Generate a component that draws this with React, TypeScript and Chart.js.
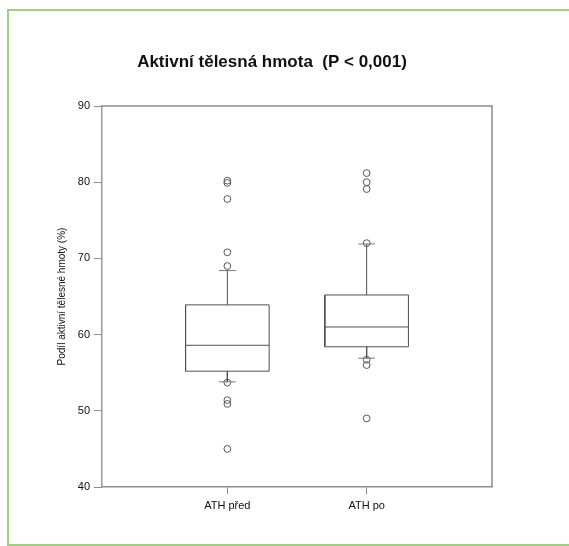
import React, { useEffect, useRef } from "react";
import { Chart, registerables } from "chart.js";

Chart.register(...registerables);

// Box-plot summary per group
const categories = ["ATH před", "ATH po"];
const q1 = [55.2, 58.4];
const median = [58.6, 61.0];
const q3 = [63.9, 65.2];
const whiskerLow = [53.8, 56.9];
const whiskerHigh = [68.4, 71.9];
const outliers = [
  [80.2, 79.9, 77.8, 70.8, 69.0, 53.7, 51.4, 50.9, 45.0],
  [81.2, 80.0, 79.1, 72.0, 56.7, 56.0, 49.0],
];
const yTicks = [40, 50, 60, 70, 80, 90];

const TITLE = "Aktivní tělesná hmota  (P < 0,001)";
const Y_TITLE = "Podíl aktivní tělesné hmoty (%)";

const FONT = "'Liberation Sans', Arial, sans-serif";
const BOX_HALF = 0.3;
const CAP_HALF = 0.06;

function lineSet(points: { x: number; y: number }[], color: string, width = 1) {
  return {
    type: "scatter" as const,
    data: points,
    showLine: true,
    borderColor: color,
    borderWidth: width,
    pointRadius: 0,
    pointHoverRadius: 0,
    fill: false,
  };
}

function buildDatasets() {
  const sets: any[] = [];
  categories.forEach((_, i) => {
    const x = i + 1;
    const l = x - BOX_HALF;
    const r = x + BOX_HALF;
    sets.push(
      lineSet(
        [
          { x: l, y: q1[i] },
          { x: r, y: q1[i] },
          { x: r, y: q3[i] },
          { x: l, y: q3[i] },
          { x: l, y: q1[i] },
        ],
        "#505050"
      )
    );
    sets.push(lineSet([{ x: l, y: median[i] }, { x: r, y: median[i] }], "#505050"));
    sets.push(lineSet([{ x, y: q3[i] }, { x, y: whiskerHigh[i] }], "#505050"));
    sets.push(lineSet([{ x, y: q1[i] }, { x, y: whiskerLow[i] }], "#505050"));
    sets.push(
      lineSet([{ x: x - CAP_HALF, y: whiskerHigh[i] }, { x: x + CAP_HALF, y: whiskerHigh[i] }], "#777777")
    );
    sets.push(
      lineSet([{ x: x - CAP_HALF, y: whiskerLow[i] }, { x: x + CAP_HALF, y: whiskerLow[i] }], "#777777")
    );
    sets.push({
      type: "scatter" as const,
      data: outliers[i].map((y) => ({ x, y })),
      showLine: false,
      pointStyle: "circle",
      pointRadius: 3.4,
      pointBorderWidth: 1,
      pointBorderColor: "#555555",
      pointBackgroundColor: "rgba(255,255,255,0)",
    });
  });
  return sets;
}

// Draws the top and right edges of the plot frame
const frame = {
  id: "plotFrame",
  afterDraw(chart: any) {
    const { ctx, chartArea } = chart;
    ctx.save();
    ctx.strokeStyle = "#8c8c8c";
    ctx.lineWidth = 1.5;
    ctx.beginPath();
    ctx.moveTo(chartArea.left, chartArea.top);
    ctx.lineTo(chartArea.right, chartArea.top);
    ctx.lineTo(chartArea.right, chartArea.bottom);
    ctx.stroke();
    ctx.restore();
  },
};

export default function App() {
  const ref = useRef<HTMLCanvasElement>(null);

  useEffect(() => {
    if (!ref.current) return;
    const chart = new Chart(ref.current, {
      type: "scatter",
      data: { datasets: buildDatasets() },
      plugins: [frame],
      options: {
        responsive: false,
        animation: false,
        events: [],
        layout: { padding: { left: 52, right: 47, top: 0, bottom: 29 } },
        plugins: {
          legend: { display: false },
          tooltip: { enabled: false },
          title: {
            display: true,
            text: TITLE,
            color: "#111111",
            font: { family: FONT, size: 17, weight: "bold" },
            padding: { top: 52, bottom: 33.6 },
          },
        },
        scales: {
          x: {
            type: "linear",
            min: 0.1,
            max: 2.9,
            afterBuildTicks: (scale: any) => {
              scale.ticks = categories.map((_, i) => ({ value: i + 1 }));
            },
            afterFit: (scale: any) => {
              scale.height = 30;
            },
            ticks: {
              autoSkip: false,
              maxRotation: 0,
              padding: 5,
              color: "#111111",
              font: { family: FONT, size: 11 },
              callback: (v: any) => categories[Math.round(Number(v)) - 1] ?? "",
            },
            grid: { drawOnChartArea: false, drawTicks: true, tickLength: 7, color: "#8c8c8c" },
            border: { display: true, color: "#8c8c8c", width: 1.5 },
          },
          y: {
            type: "linear",
            min: 40,
            max: 90,
            afterBuildTicks: (scale: any) => {
              scale.ticks = yTicks.map((v) => ({ value: v }));
            },
            afterFit: (scale: any) => {
              scale.width = 50;
            },
            ticks: {
              padding: 4,
              color: "#111111",
              font: { family: FONT, size: 11 },
            },
            grid: { drawOnChartArea: false, drawTicks: true, tickLength: 8, color: "#8c8c8c" },
            border: { display: true, color: "#9a9a9a", width: 1.5 },
            title: {
              display: true,
              text: Y_TITLE,
              color: "#111111",
              font: { family: FONT, size: 10 },
              padding: { top: 4, bottom: 0 },
            },
          },
        },
      },
    });
    return () => chart.destroy();
  }, []);

  return (
    <div style={{ position: "absolute", left: 0, top: 0, width: 569, height: 546, background: "#ffffff" }}>
      <div
        style={{
          position: "absolute",
          left: 7,
          top: 9,
          width: 562,
          height: 537,
          boxSizing: "border-box",
          borderLeft: "2px solid #a2cf7c",
          borderTop: "2px solid #a2cf7c",
          borderBottom: "2px solid #a2cf7c",
        }}
      />
      <canvas
        ref={ref}
        width={539}
        height={546}
        style={{ position: "absolute", left: 0, top: 0, width: 539, height: 546 }}
      />
    </div>
  );
}
